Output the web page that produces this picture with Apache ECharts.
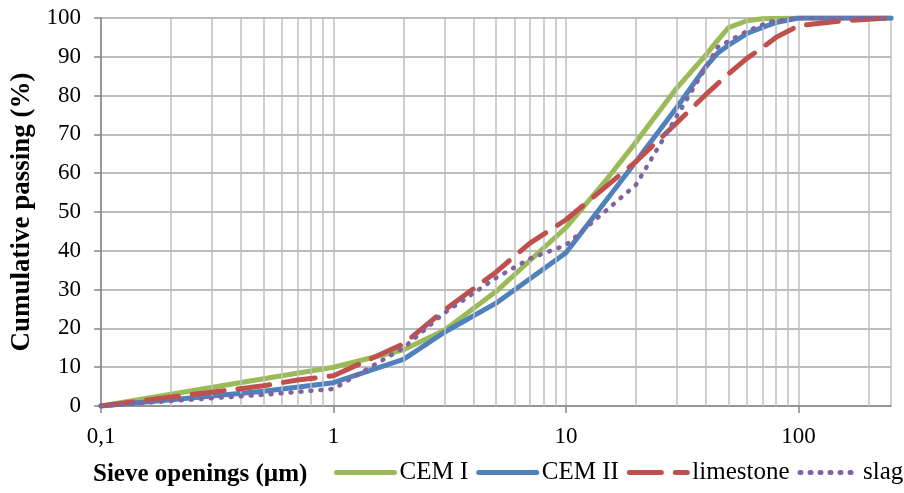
<!DOCTYPE html>
<html>
<head>
<meta charset="utf-8">
<script src="https://cdn.jsdelivr.net/npm/echarts@6/dist/echarts.min.js"></script>
<style>
html,body{margin:0;padding:0;background:#fff;}
#chart{width:904px;height:493px;}
</style>
</head>
<body>
<div id="chart"></div>
<script>
// ---- data ----
const seriesNames = ['CEM I', 'CEM II', 'limestone', 'slag'];

const cemI_x = [0.1, 0.5, 1, 2, 3, 5, 10, 15, 20, 30, 40, 45, 50, 60, 70, 100, 250];
const cemI_y = [0, 7, 10, 14.5, 19.5, 29.5, 46, 58.5, 68, 82, 90.5, 94.3, 97.5, 99.3, 99.8, 100, 100];

const cemII_x = [0.1, 0.2, 0.5, 1, 2, 3, 5, 10, 20, 30, 40, 45, 50, 60, 70, 80, 100, 250];
const cemII_y = [0, 1.6, 3.8, 6, 12, 19, 26.5, 39.5, 63, 77, 87.5, 91, 93, 96, 97.6, 98.8, 100, 100];

const lime_x = [0.1, 0.2, 0.5, 0.7, 1, 2, 3, 5, 7, 10, 20, 30, 40, 50, 60, 70, 80, 100, 150, 200, 250];
const lime_y = [0, 2.3, 5.2, 6.7, 7.8, 16, 24.7, 34.5, 42, 48, 63, 73, 80.3, 85.6, 89.6, 92.4, 95, 98, 99.2, 99.7, 100];

const slag_x = [0.1, 0.2, 0.5, 1, 2, 3, 5, 7, 10, 20, 45, 60, 75, 100, 250];
const slag_y = [0, 1.3, 2.9, 4.4, 15, 24, 33, 38, 41.5, 57, 92.5, 96.6, 99, 100, 100];

const yTicks = [0, 10, 20, 30, 40, 50, 60, 70, 80, 90, 100];
const xMinorGrid = [0.2, 0.3, 0.4, 0.5, 0.6, 0.7, 0.8, 0.9, 2, 3, 4, 5, 6, 7, 8, 9, 20, 30, 40, 50, 60, 70, 80, 90, 200];

const xTitle = 'Sieve openings (µm)';
const yTitle = 'Cumulative passing (%)';

// ---- build ----
function pairs(xs, ys) { return xs.map((x, i) => [x, ys[i]]); }
const FONT = '"Liberation Serif", "Times New Roman", serif';
const colors = ['#9BBB59', '#4F81BD', '#C0504D', '#8064A2'];

const chart = echarts.init(document.getElementById('chart'), null, {renderer: 'canvas'});
chart.setOption({
  animation: false,
  backgroundColor: '#ffffff',
  textStyle: {fontFamily: FONT},
  title: {
    text: xTitle,
    left: 88,
    top: 457,
    textStyle: {fontFamily: FONT, fontSize: 25, fontWeight: 'bold', color: '#000'}
  },
  legend: {
    data: seriesNames,
    left: 334,
    top: 460,
    padding: 0,
    width: 570,
    itemWidth: 58,
    itemHeight: 14,
    itemGap: 8,
    itemStyle: {opacity: 0},
    lineStyle: {width: 5},
    textStyle: {fontFamily: FONT, fontSize: 25, color: '#000'}
  },
  grid: {left: 101, right: 13, top: 18, bottom: 87, containLabel: false},
  xAxis: {
    type: 'log',
    logBase: 10,
    min: 0.1,
    max: 250,
    axisLine: {show: true, lineStyle: {color: '#868686', width: 1.5}},
    axisTick: {show: true, length: 7, inside: false, lineStyle: {color: '#868686', width: 1.5}},
    axisLabel: {
      show: true,
      margin: 19,
      showMaxLabel: false,
      fontFamily: FONT,
      fontSize: 23,
      color: '#000',
      formatter: function (v) { return String(+(+v).toPrecision(6)).replace('.', ','); }
    },
    splitLine: {show: true, lineStyle: {color: '#BFBFBF', width: 1.5}},
    minorTick: {show: false},
    minorSplitLine: {show: false}
  },
  yAxis: {
    type: 'value',
    min: 0,
    max: 100,
    interval: 10,
    name: yTitle,
    nameLocation: 'middle',
    nameGap: 57,
    nameTextStyle: {fontFamily: FONT, fontSize: 27, fontWeight: 'bold', color: '#000'},
    axisLine: {show: true, lineStyle: {color: '#868686', width: 1.5}},
    axisTick: {show: true, length: 7, inside: false, lineStyle: {color: '#868686', width: 1.5}},
    axisLabel: {margin: 20, fontFamily: FONT, fontSize: 23, color: '#000'},
    splitLine: {show: true, lineStyle: {color: '#A6A6A6', width: 1.5}}
  },
  series: [
    {
      name: '_grid',
      type: 'line',
      data: [],
      silent: true,
      z: 1,
      showSymbol: false,
      lineStyle: {opacity: 0},
      markLine: {
        silent: true,
        symbol: ['none', 'none'],
        label: {show: false},
        animation: false,
        lineStyle: {color: '#BFBFBF', width: 1.5, type: 'solid'},
        emphasis: {disabled: true},
        data: xMinorGrid.map(v => ({xAxis: v}))
      }
    },
    {
      name: 'CEM I', type: 'line', data: pairs(cemI_x, cemI_y), showSymbol: false, symbol: 'none', z: 3,
      color: colors[0],
      lineStyle: {color: colors[0], width: 5, cap: 'round', join: 'round'}
    },
    {
      name: 'CEM II', type: 'line', data: pairs(cemII_x, cemII_y), showSymbol: false, symbol: 'none', z: 4,
      color: colors[1],
      lineStyle: {color: colors[1], width: 5, cap: 'round', join: 'round'}
    },
    {
      name: 'limestone', type: 'line', data: pairs(lime_x, lime_y), showSymbol: false, symbol: 'none', z: 5,
      color: colors[2],
      lineStyle: {color: colors[2], width: 5, type: [32, 14], cap: 'round', join: 'round'}
    },
    {
      name: 'slag', type: 'line', data: pairs(slag_x, slag_y), showSymbol: false, symbol: 'none', z: 6,
      color: colors[3],
      lineStyle: {color: colors[3], width: 4.5, type: [1, 9], cap: 'round', join: 'round'}
    }
  ]
});
</script>
</body>
</html>
